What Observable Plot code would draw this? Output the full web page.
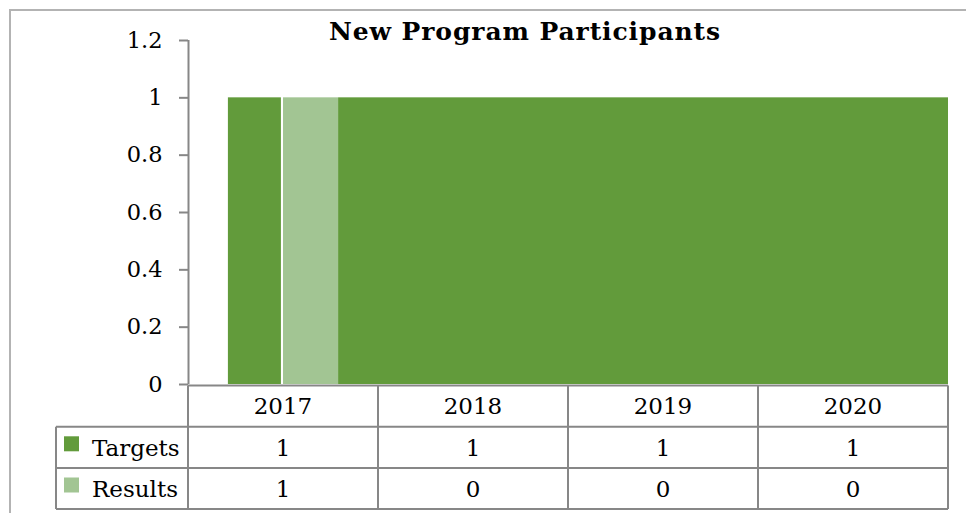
<!DOCTYPE html>
<html><head><meta charset="utf-8">
<script src="https://cdn.jsdelivr.net/npm/d3@7"></script>
<script src="https://cdn.jsdelivr.net/npm/@observablehq/plot@0.6"></script>
<style>html,body{margin:0;padding:0;background:#fff;overflow:hidden} svg{display:block}</style>
</head><body><div id="chart"></div>
<script>
const years = ["2017", "2018", "2019", "2020"];
const targets = [1, 1, 1, 1];
const results = [1, 0, 0, 0];
const yTicks = [0, 0.2, 0.4, 0.6, 0.8, 1, 1.2];
const seriesNames = ["Targets", "Results"];
const seriesColors = ["#629B3B", "#A2C593"];
const title = "New Program Participants";

const FONT = "DejaVu Serif";
const BW = 0.29, GAP = 0.011;
const bars = [];
years.forEach((yr, i) => {
  const c = i + 0.5;
  if (i === 0) {
    bars.push({series: "Targets", value: targets[i], x1: c - BW, x2: c - GAP});
  } else {
    // the source renders later target bars as one continuous block
    bars.push({series: "Targets", value: targets[i], x1: i === 1 ? 0.5 + BW : i, x2: i + 1});
  }
  bars.push({series: "Results", value: results[i], x1: c, x2: c + BW});
});

const chart = Plot.plot({
  width: 966, height: 513,
  marginLeft: 188, marginRight: 18, marginTop: 40, marginBottom: 129,
  style: {fontFamily: FONT, fontSize: "22.5px", color: "#000", background: "#fff", overflow: "visible"},
  x: {domain: [0, years.length], axis: null},
  y: {domain: [0, 1.2]},
  color: {domain: seriesNames, range: seriesColors},
  marks: [
    Plot.rect(bars, {x1: "x1", x2: "x2", y1: () => 0, y2: "value", fill: "series"}),
    Plot.axisY({ticks: yTicks, tickSize: 9, tickPadding: 17, tickFormat: d => String(+d.toFixed(1)),
      stroke: "#878787", strokeWidth: 2, label: null}),
    Plot.ruleX([0], {y1: 0, y2: 1.2, stroke: "#878787", strokeWidth: 2})
  ]
});
document.getElementById("chart").appendChild(chart);

const svg = d3.select(chart);
const xs = chart.scale("x"), ys = chart.scale("y");
const X = v => xs.apply(v), Y = v => ys.apply(v);
const LC = "#878787";
const top0 = Y(0) + 1.5, RH = 41.2, legendLeft = 56;
const rowY = [top0, top0 + RH, top0 + 2 * RH, top0 + 3 * RH];
const right = X(years.length), left = X(0);

// outer frame
svg.append("path").attr("d", "M10,520V10H970").attr("fill", "none").attr("stroke", "#b3b3b3").attr("stroke-width", 2);

// title
svg.append("text").attr("x", 525).attr("y", 40).attr("text-anchor", "middle")
  .attr("font-family", FONT).attr("font-weight", "bold").attr("font-size", 25)
  .attr("letter-spacing", 0.9).attr("fill", "#000").text(title);

const g = svg.append("g").attr("stroke", LC).attr("stroke-width", 2).attr("fill", "none");
g.append("line").attr("x1", left).attr("x2", right).attr("y1", rowY[0]).attr("y2", rowY[0]);
for (let r = 1; r <= 3; r++) g.append("line").attr("x1", legendLeft).attr("x2", right).attr("y1", rowY[r]).attr("y2", rowY[r]);
for (let i = 0; i <= years.length; i++) g.append("line").attr("x1", X(i)).attr("x2", X(i)).attr("y1", rowY[0]).attr("y2", rowY[3]);
g.append("line").attr("x1", legendLeft).attr("x2", legendLeft).attr("y1", rowY[1]).attr("y2", rowY[3]);

const t = svg.append("g").attr("font-family", FONT).attr("font-size", 23).attr("fill", "#000");
years.forEach((yr, i) => {
  const cx = X(i + 0.5);
  t.append("text").attr("x", cx).attr("y", (rowY[0] + rowY[1]) / 2).attr("dy", "0.36em").attr("text-anchor", "middle").text(yr);
  t.append("text").attr("x", cx).attr("y", (rowY[1] + rowY[2]) / 2).attr("dy", "0.36em").attr("text-anchor", "middle").text(targets[i]);
  t.append("text").attr("x", cx).attr("y", (rowY[2] + rowY[3]) / 2).attr("dy", "0.36em").attr("text-anchor", "middle").text(results[i]);
});
seriesNames.forEach((s, k) => {
  const cy = (rowY[k + 1] + rowY[k + 2]) / 2;
  svg.append("rect").attr("x", 64).attr("y", cy - 11).attr("width", 15).attr("height", 15).attr("fill", seriesColors[k]);
  t.append("text").attr("x", 92).attr("y", cy).attr("dy", "0.36em").attr("text-anchor", "start").text(s);
});
</script>
</body></html>
